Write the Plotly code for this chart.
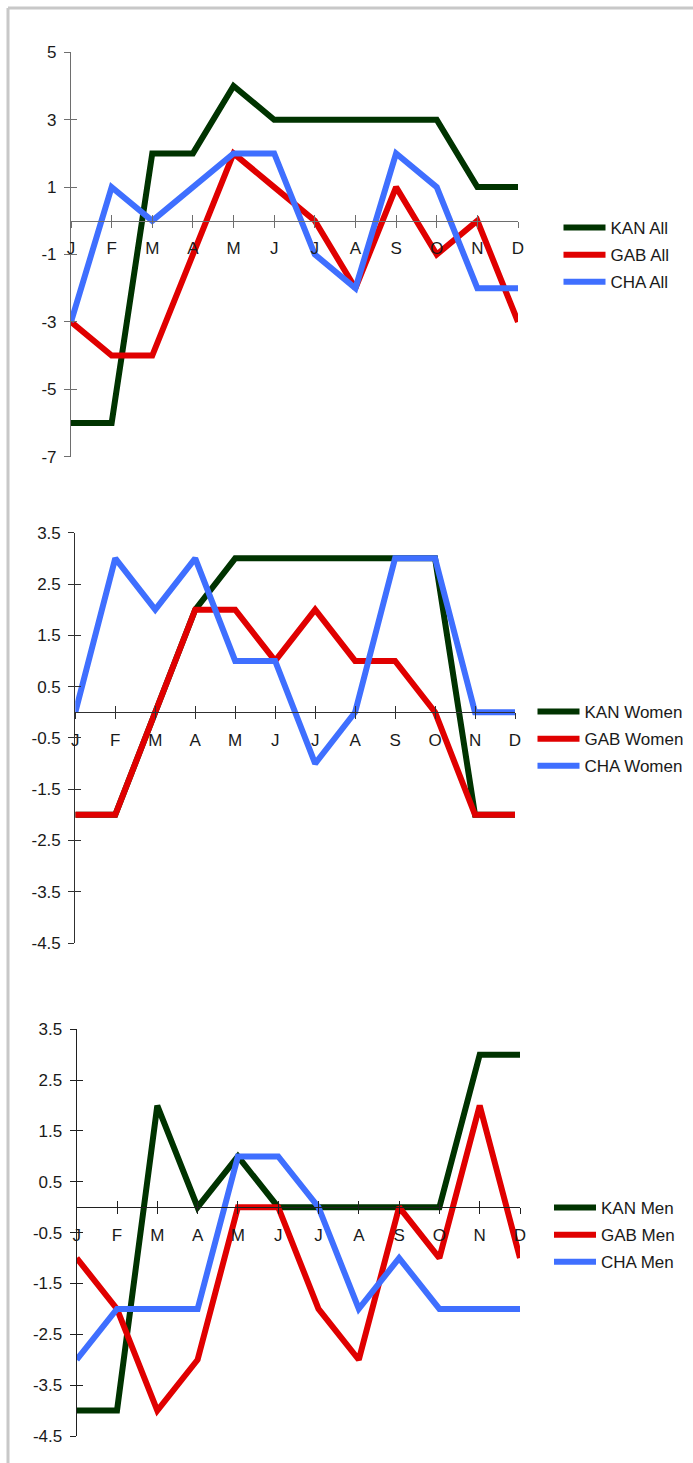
import plotly.graph_objects as go

# Month initials along the shared category axis
months = ["J", "F", "M", "A", "M", "J", "J", "A", "S", "O", "N", "D"]

# All respondents
kan_all = [-6, -6, 2, 2, 4, 3, 3, 3, 3, 3, 1, 1]
gab_all = [-3, -4, -4, -1, 2, 1, 0, -2, 1, -1, 0, -3]
cha_all = [-3, 1, 0, 1, 2, 2, -1, -2, 2, 1, -2, -2]

# Women
kan_women = [-2, -2, 0, 2, 3, 3, 3, 3, 3, 3, -2, -2]
gab_women = [-2, -2, 0, 2, 2, 1, 2, 1, 1, 0, -2, -2]
cha_women = [0, 3, 2, 3, 1, 1, -1, 0, 3, 3, 0, 0]

# Men
kan_men = [-4, -4, 2, 0, 1, 0, 0, 0, 0, 0, 3, 3]
gab_men = [-1, -2, -4, -3, 0, 0, -2, -3, 0, -1, 2, -1]
cha_men = [-3, -2, -2, -2, 1, 1, 0, -2, -1, -2, -2, -2]

# Y tick values and labels
all_tickvals = [5, 3, 1, -1, -3, -5, -7]
all_ticktext = ["5", "3", "1", "-1", "-3", "-5", "-7"]
half_tickvals = [3.5, 2.5, 1.5, 0.5, -0.5, -1.5, -2.5, -3.5, -4.5]
half_ticktext = ["3.5", "2.5", "1.5", "0.5", "-0.5", "-1.5", "-2.5", "-3.5", "-4.5"]

W, H = 693, 1463
FONT = "Liberation Sans"
COLORS = {"KAN": "#003300", "GAB": "#E00000", "CHA": "#3F6FFF"}


def fx(px):
    return px / W


def fy(px):
    return 1 - px / H


panels = [
    dict(label="All", series=[kan_all, gab_all, cha_all],
         x0=71, x1=518, ytop=52.3, ybot=456.7, rng=[-7, 5],
         tv=all_tickvals, tt=all_ticktext, axis_color="#6e6e6e",
         leg_x=558.5, leg_y=210),
    dict(label="Women", series=[kan_women, gab_women, cha_women],
         x0=75.3, x1=515, ytop=532.7, ybot=943.1, rng=[-4.5, 3.5],
         tv=half_tickvals, tt=half_ticktext, axis_color="#303030",
         leg_x=532.5, leg_y=694),
    dict(label="Men", series=[kan_men, gab_men, cha_men],
         x0=76.7, x1=520, ytop=1029.3, ybot=1436, rng=[-4.5, 3.5],
         tv=half_tickvals, tt=half_ticktext, axis_color="#202020",
         leg_x=549, leg_y=1190),
]

xs = list(range(len(months)))
fig = go.Figure()
layout = dict(
    width=W, height=H,
    margin=dict(l=0, r=0, t=0, b=0, pad=0, autoexpand=False),
    paper_bgcolor="white", plot_bgcolor="white",
    font=dict(family=FONT, size=17, color="#1a1a1a"),
    showlegend=True,
)

tick_font = dict(family=FONT, size=17, color="#1a1a1a")

for i, p in enumerate(panels):
    n = i + 1
    base = 3 * i + 1          # main axes
    over = 3 * i + 2          # overlay axes carrying the inward half of the ticks
    xa, ya = f"x{base}", f"y{base}"
    xo, yo = f"x{over}", f"y{over}"
    ydom = [fy(p["ybot"]), fy(p["ytop"])]
    lo, hi = p["rng"]
    zero_pos = ydom[0] + (0 - lo) / (hi - lo) * (ydom[1] - ydom[0])
    legend_name = "legend" if n == 1 else f"legend{n}"

    for name, vals in zip(["KAN", "GAB", "CHA"], p["series"]):
        fig.add_trace(go.Scatter(
            x=xs, y=vals, mode="lines",
            name=f"{name} {p['label']}",
            line=dict(color=COLORS[name], width=6),
            xaxis=xa, yaxis=ya, legend=legend_name,
            legendgroup=f"{name}{n}",
            cliponaxis=False, hoverinfo="skip",
        ))
    fig.add_trace(go.Scatter(x=[], y=[], xaxis=xo, yaxis=yo,
                             showlegend=False, hoverinfo="skip"))

    common_x = dict(range=[0, len(months) - 1], tickmode="array", tickvals=xs,
                    showgrid=False, zeroline=False, anchor="free",
                    position=zero_pos, fixedrange=True, automargin=False)
    layout[f"xaxis{base}"] = dict(
        domain=[fx(p["x0"]), fx(p["x1"])], ticktext=months,
        ticks="outside", ticklen=6, tickwidth=1.2, tickcolor=p["axis_color"],
        showline=True, linecolor=p["axis_color"], linewidth=1.2,
        tickfont=tick_font, ticklabelstandoff=6, **common_x)
    layout[f"xaxis{over}"] = dict(
        overlaying=xa, ticks="inside", ticklen=6, tickwidth=1.2,
        tickcolor=p["axis_color"], showticklabels=False, showline=False,
        **common_x)

    common_y = dict(range=p["rng"], tickmode="array", tickvals=p["tv"],
                    showgrid=False, zeroline=False, fixedrange=True,
                    automargin=False)
    layout[f"yaxis{base}"] = dict(
        domain=ydom, anchor=xa, ticktext=p["tt"],
        ticks="outside", ticklen=6, tickwidth=1.2, tickcolor=p["axis_color"],
        showline=True, linecolor=p["axis_color"], linewidth=1.2,
        tickfont=tick_font, ticklabelstandoff=4, **common_y)
    layout[f"yaxis{over}"] = dict(
        overlaying=ya, anchor=xo, ticks="inside", ticklen=6, tickwidth=1.2,
        tickcolor=p["axis_color"], showticklabels=False, showline=False,
        **common_y)

    layout[legend_name] = dict(
        x=fx(p["leg_x"]), y=fy(p["leg_y"]), xanchor="left", yanchor="top",
        bgcolor="rgba(0,0,0,0)", borderwidth=0, tracegroupgap=2,
        itemwidth=42,
        font=dict(family=FONT, size=17, color="#1a1a1a"),
    )

# Light grey frame along the top and left edges
layout["shapes"] = [
    dict(type="line", xref="paper", yref="paper", x0=fx(8), x1=1,
         y0=fy(8), y1=fy(8), line=dict(color="#c8c8c8", width=3)),
    dict(type="line", xref="paper", yref="paper", x0=fx(8), x1=fx(8),
         y0=fy(8), y1=0, line=dict(color="#c8c8c8", width=3)),
]

fig.update_layout(**layout)
# Remove the browser's default page margin so the figure sits at the origin
fig.write_html("out.html",
               post_script="document.body.style.margin='0';"
                           "document.documentElement.style.overflow='hidden';")
